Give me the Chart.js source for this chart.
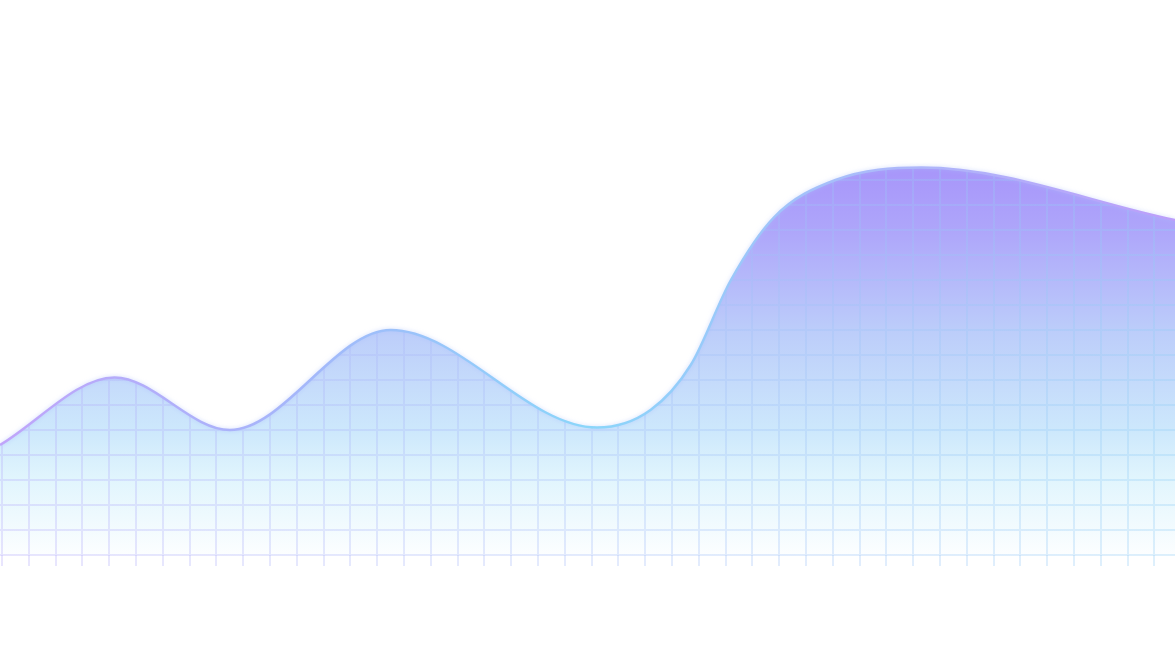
<!DOCTYPE html>
<html>
<head>
<meta charset="utf-8">
<script src="https://cdn.jsdelivr.net/npm/chart.js@4.4.1/dist/chart.umd.min.js"></script>
<style>
html,body{margin:0;padding:0;background:#fff;}
#wrap{width:1175px;height:666px;position:relative;}
</style>
</head>
<body>
<div id="wrap"><canvas id="wave"></canvas></div>
<script>
// ---------- DATA ----------
// x in grid columns, y in grid rows
const xPos   = [-0.075, 4.2, 8.5, 14.5, 22.2, 24.2, 25.7, 27.2, 28.8, 31.1, 34.3, 43.77];
const values = [4.4, 7.1, 5.0, 9.0, 5.1, 5.8, 7.6, 11.0, 13.5, 15.0, 15.5, 13.4];
const xMin = -0.075, xMax = 43.77;
const yMin = 0, yMax = 16;

// ---------- GRADIENTS ----------
let cache = {};
function grads(c, a){
  const key = a.left+'_'+a.top+'_'+a.right+'_'+a.bottom;
  if(cache.key === key) return cache;
  const fill = c.createLinearGradient(0, a.top, 0, a.bottom);
  fill.addColorStop(0.00, 'rgb(166,146,250)');
  fill.addColorStop(0.19, 'rgb(174,166,250)');
  fill.addColorStop(0.44, 'rgb(188,205,250)');
  fill.addColorStop(0.69, 'rgb(205,232,252)');
  fill.addColorStop(0.81, 'rgb(225,245,253)');
  fill.addColorStop(1.00, 'rgb(252,254,255)');

  const line = c.createLinearGradient(a.left, 0, a.right, 0);
  line.addColorStop(0.00, 'rgb(192,165,250)');
  line.addColorStop(0.25, 'rgb(165,182,250)');
  line.addColorStop(0.50, 'rgb(138,214,250)');
  line.addColorStop(0.75, 'rgb(172,186,250)');
  line.addColorStop(1.00, 'rgb(188,158,250)');

  const grid = c.createLinearGradient(a.left, 0, a.right, 0);
  grid.addColorStop(0.0, 'rgba(180,170,250,0.3)');
  grid.addColorStop(0.5, 'rgba(165,188,248,0.3)');
  grid.addColorStop(1.0, 'rgba(145,205,245,0.3)');

  cache = {key, fill, line, grid};
  return cache;
}

// grid drawn over the fill, only below the curve; soft glow on the line
const gridUnderCurve = {
  id: 'gridUnderCurve',
  beforeDatasetDraw(chart, args){
    if(args.index !== 0) return;
    const {ctx, chartArea: a, scales: {x, y}} = chart;
    const pts = args.meta.data;
    ctx.save();
    ctx.beginPath();
    args.meta.dataset.path(ctx);
    ctx.lineTo(pts[pts.length-1].x, a.bottom + 1);
    ctx.lineTo(pts[0].x, a.bottom + 1);
    ctx.closePath();
    ctx.clip();
    ctx.strokeStyle = grads(ctx, a).grid;
    ctx.lineWidth = 2;
    ctx.beginPath();
    x.ticks.forEach(t => {
      const px = Math.round(x.getPixelForValue(t.value));
      ctx.moveTo(px, a.top); ctx.lineTo(px, a.bottom + 1);
    });
    y.ticks.forEach(t => {
      const py = Math.round(y.getPixelForValue(t.value));
      ctx.moveTo(a.left, py); ctx.lineTo(a.right, py);
    });
    ctx.stroke();
    ctx.restore();
    ctx.shadowColor = 'rgba(170,190,250,0.55)';
    ctx.shadowBlur = 4;
  },
  afterDatasetDraw(chart, args){
    if(args.index !== 0) return;
    chart.ctx.shadowColor = 'transparent';
    chart.ctx.shadowBlur = 0;
  }
};

// ---------- CHART ----------
const ctx = document.getElementById('wave').getContext('2d');
const chart = new Chart(ctx, {
  type: 'line',
  data: {
    datasets: [{
      data: xPos.map((x, i) => ({x, y: values[i]})),
      fill: 'origin',
      backgroundColor: c => c.chart.chartArea ? grads(c.chart.ctx, c.chart.chartArea).fill : 'transparent',
      borderColor: c => c.chart.chartArea ? grads(c.chart.ctx, c.chart.chartArea).line : '#9ad',
      borderWidth: 2.5,
      cubicInterpolationMode: 'monotone',
      pointRadius: 0,
      pointHoverRadius: 0
    }]
  },
  options: {
    responsive: true,
    maintainAspectRatio: false,
    animation: false,
    layout: {padding: {top: 155, bottom: 100, left: 0, right: 0}},
    plugins: {legend: {display: false}, tooltip: {enabled: false}},
    scales: {
      x: {
        type: 'linear', min: xMin, max: xMax,
        ticks: {display: false, stepSize: 1, includeBounds: false},
        grid: {
          drawOnChartArea: false, drawTicks: true, tickLength: 11, lineWidth: 2,
          color: c => c.chart.chartArea ? grads(c.chart.ctx, c.chart.chartArea).grid : 'transparent'
        },
        border: {display: false}
      },
      y: {
        display: false, min: yMin, max: yMax,
        ticks: {stepSize: 1}
      }
    }
  },
  plugins: [gridUnderCurve]
});
</script>
</body>
</html>
